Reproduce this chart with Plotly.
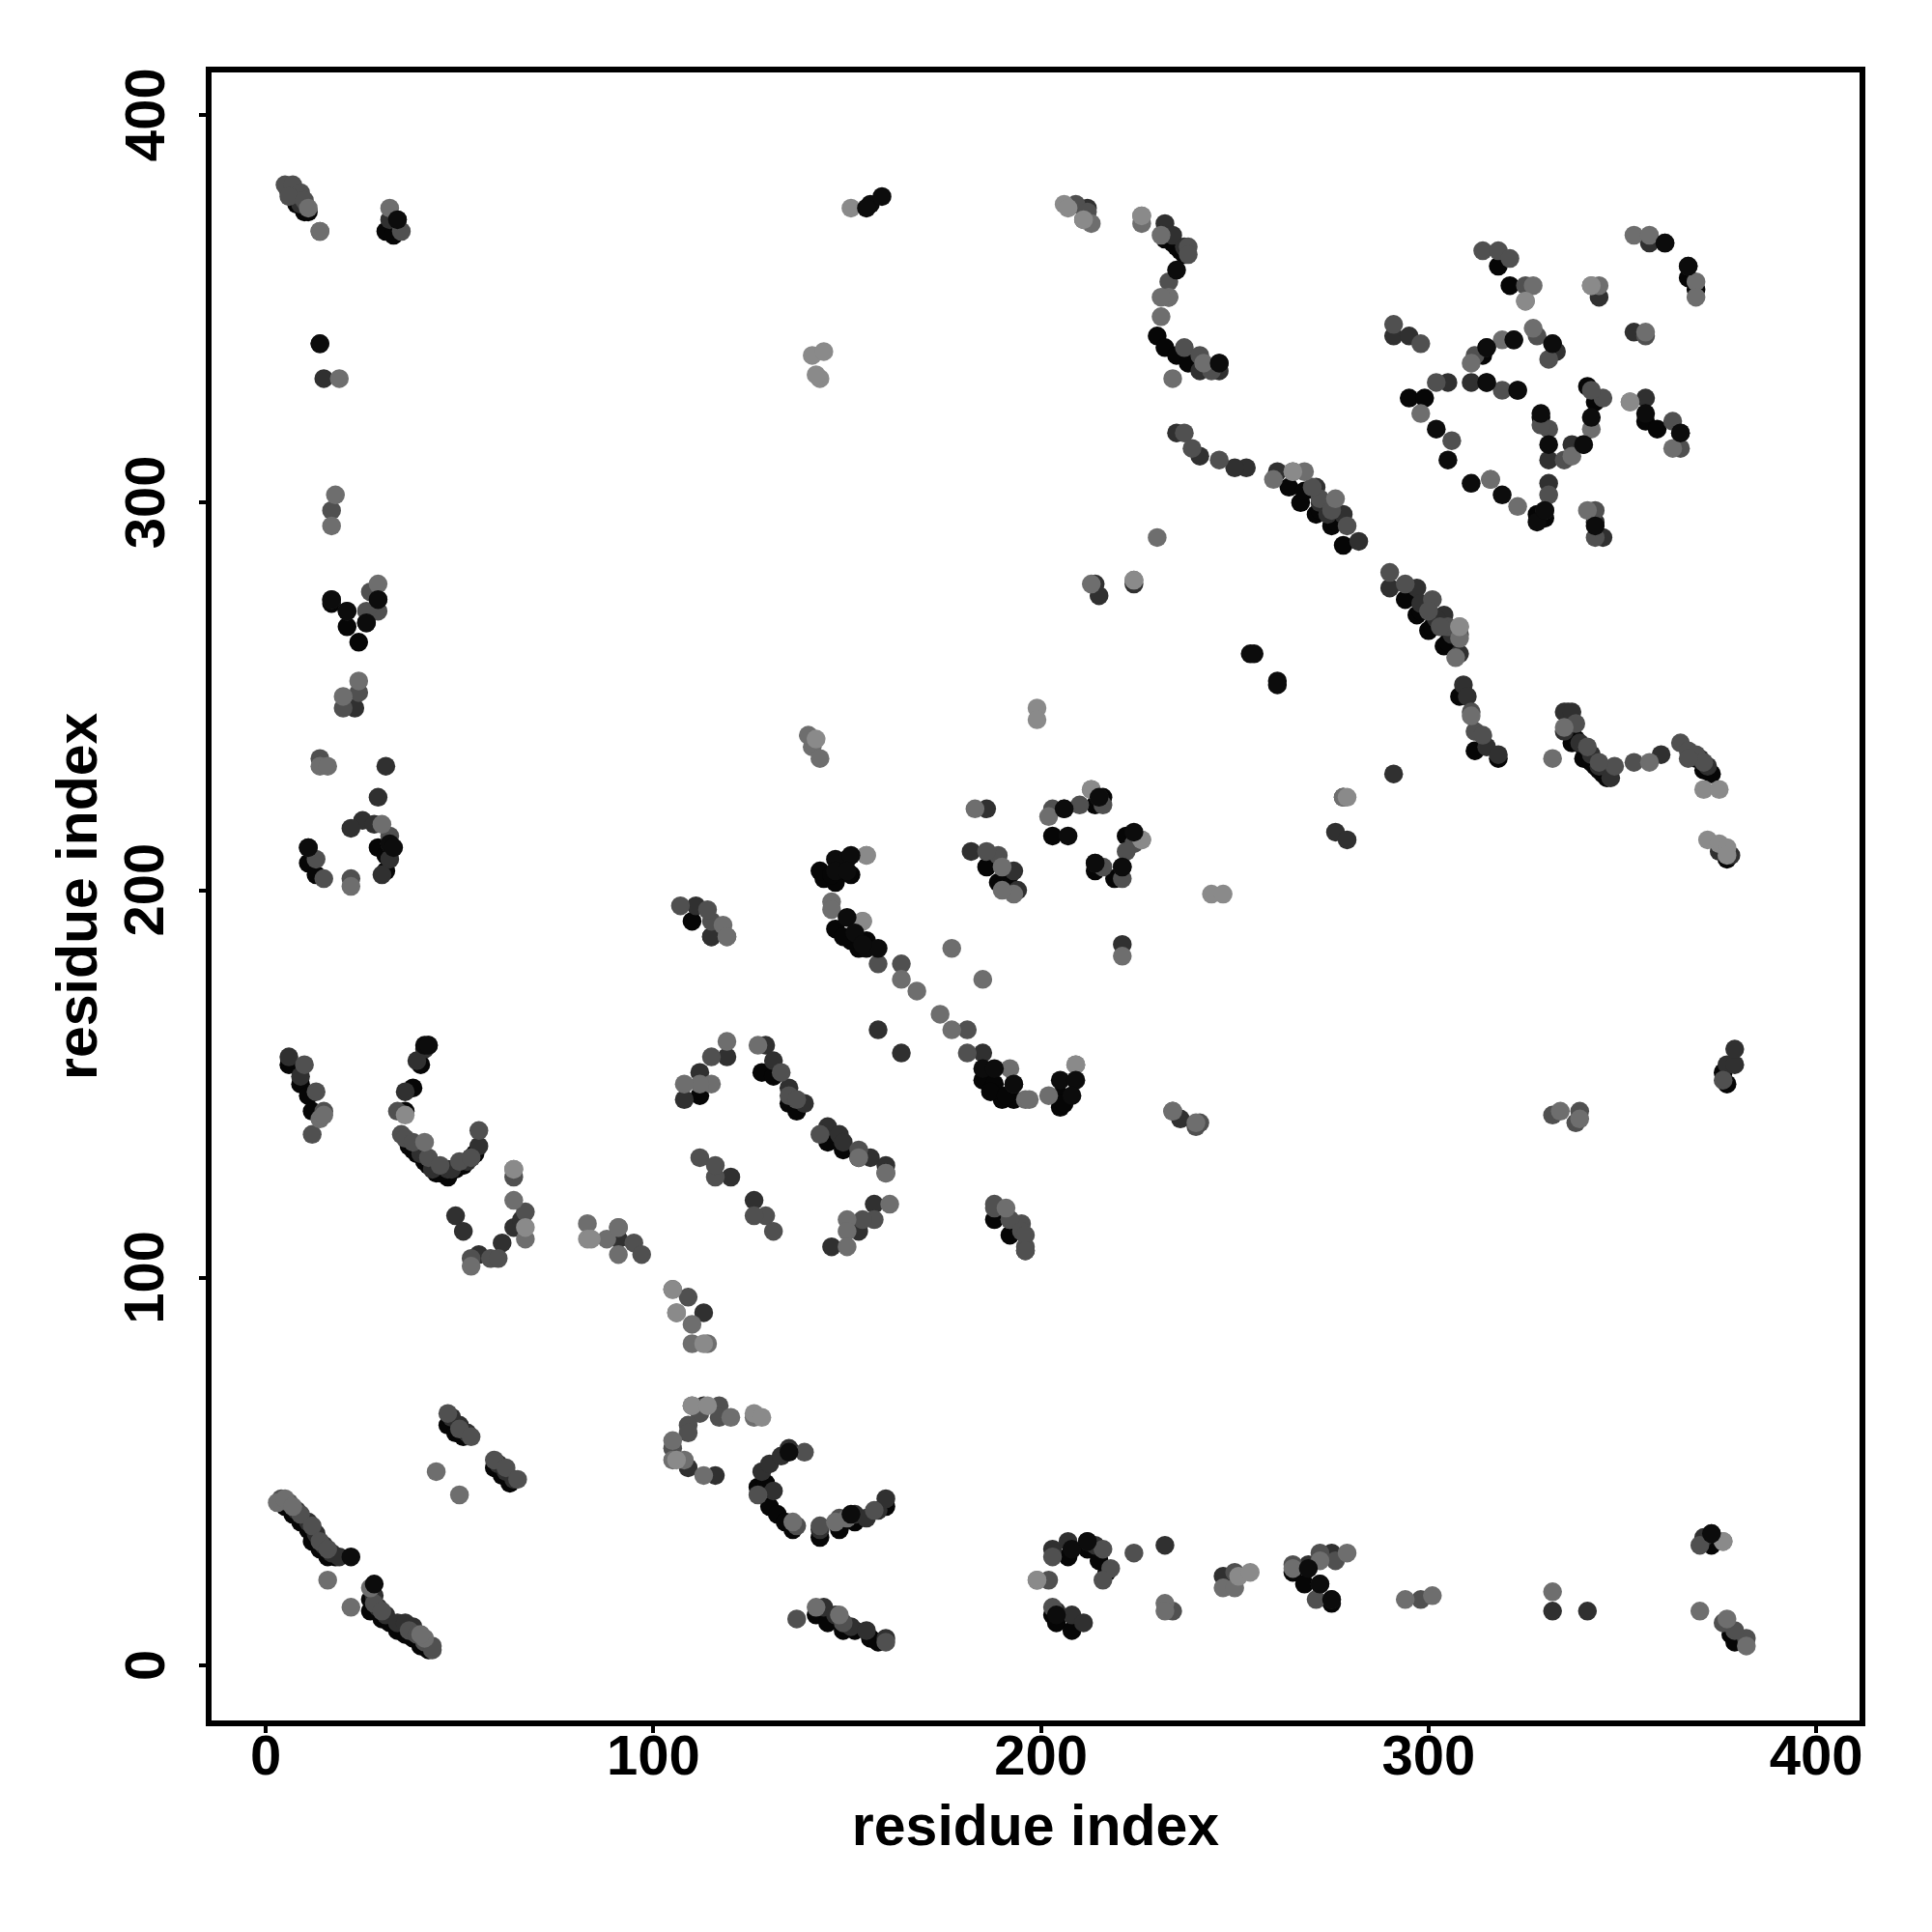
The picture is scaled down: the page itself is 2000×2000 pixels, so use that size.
import plotly.graph_objects as go

tick_values = [0, 100, 200, 300, 400]
axis_title = "residue index"

# contacts as (residue x, residue y), grouped by grey level, drawn in this order
contacts_black = [
 (5,41),(7,39),(9,37),(11,35),(12,32),(14,30),(16,28),(18,28),(27,17),(27,14),(30,12),(32,11),(34,9),(36,8),(38,7),(40,5),(42,4),
 (47,62),(49,60),(51,59),(59,51),(61,49),(63,47),(127,46),(129,47),(130,41),(132,39),(134,37),(136,35),(143,33),(148,35),(152,37),(160,41),
 (142,13),(145,11),(149,9),(152,9),(156,7),(158,6),
 (203,13),(204,11),(208,9),(207,28),(212,30),(215,27),(217,24),(265,24),(268,21),(275,16),(373,31),(371,32),(378,8),(379,6),
 (188,115),(192,111),(196,107),(112,147),(110,192),(115,188),(128,153),(131,152),(135,145),(137,143),(145,135),(149,133),(153,131),
 (144,203),(147,202),(151,204),(147,190),(151,187),(155,187),(185,151),(188,150),(190,146),(193,146),(205,144),(205,147),
 (186,206),(189,202),(192,204),(203,214),(214,222),(216,224),(222,214),(214,205),(219,203),
 (232,370),(234,367),(236,365),(230,343),(232,340),(235,338),(238,336),(264,304),(267,300),(271,297),(275,294),(278,289),
 (294,275),(297,271),(300,267),(304,263),(308,250),(312,236),(318,234),(337,238),(340,234),(343,232),(345,230),(367,358),(369,355),
 (318,361),(321,356),(295,327),(299,327),(314,338),(341,330),(343,326),(356,321),(359,319),(329,322),(328,297),(330,296),
 (11,207),(13,204),(29,211),(31,205),(31,209),(8,377),(10,375),(31,370),(33,369),(17,274),(21,268),(24,264),(6,155),(9,150),(11,147),(12,143),
 (36,143),(38,149),(40,155),(38,133),(41,130),(44,127),(47,126),(51,129),(54,132),(377,150),(376,153),
 (336,243),(338,239),(340,237),(342,233),(344,231),(346,229),(232,368),(235,366),(237,364),(298,272),(301,268),(305,264),(268,303),(272,298),(276,295),
 (6,380),(9,378),(11,375),(37,134),(39,132),(42,129),(45,127),(49,128),(53,131),(369,234),(371,231),(373,230),
 (377,208),(143,205),(146,204),(149,188),(153,185),(187,148),(191,147),(206,145),(190,201),
]
contacts_dark = [
 (8,40),(11,37),(13,34),(15,31),(17,29),(19,28),(28,18),(29,15),(31,13),(34,11),(36,11),(38,10),
 (48,64),(50,62),(52,60),(60,52),(62,50),(64,48),(128,50),(130,52),(133,54),(135,56),(131,45),(152,39),(155,38),(158,40),(160,43),
 (144,15),(147,13),(151,10),(155,9),(160,7),
 (203,30),(207,32),(212,32),(214,31),(232,31),(204,14),(208,13),(211,11),(247,23),(269,26),(275,29),(272,21),(275,17),(341,14),(332,14),(373,34),(371,33),
 (49,116),(51,112),(61,109),(91,110),(113,91),(116,49),(113,67),(109,51),(143,35),
 (111,196),(115,188),(186,221),(182,210),(206,221),(215,224),(221,206),(214,207),(221,186),(158,164),(164,158),(185,158),(193,150),(194,200),(193,205),
 (120,126),(126,120),(157,119),(119,157),(112,153),(108,146),(129,160),(131,156),(135,149),(139,145),(145,139),(148,137),(149,135),(156,131),(160,129),(153,112),(146,108),(236,141),
 (232,372),(233,353),(241,334),(246,336),(246,334),(253,309),(250,309),(241,312),(235,318),(261,308),(271,304),(278,297),(282,290),(290,278),(297,278),(304,271),(308,261),(309,253),(310,250),(315,237),(318,235),(336,246),(342,235),(360,235),(370,234),(372,232),
 (291,343),(295,343),(305,331),(311,331),(315,331),(323,329),(315,340),(322,342),(333,339),(331,311),(331,305),(330,298),(337,315),(340,315),(356,327),(365,318),(343,295),(345,291),
 (361,367),(357,367),(353,344),(344,353),(367,361),(14,341),(15,332),(32,373),(34,373),(17,275),(21,272),(29,275),(26,269),(23,247),(31,232),(29,224),(11,211),(32,212),(32,208),(25,218),(22,216),(28,217),(30,204),
 (6,157),(9,152),(41,159),(42,160),(39,156),(36,148),(43,128),(47,128),(55,134),(377,155),(379,155),
 (214,279),(215,276),(224,279),(276,215),(279,213),(291,230),(278,224),(379,159),(335,246),(337,246),(335,241),(339,238),(344,232),(347,229),
 (272,300),(274,297),(298,274),(302,270),(306,266),(7,380),(9,377),(212,376),(234,369),(237,366),(52,130),(48,128),(40,132),
 (375,210),(378,209),(64,113),(66,115),(55,106),
]
contacts_mid = [
 (4,43),(6,42),(9,39),(12,36),(14,32),(16,30),(28,16),(30,14),(37,9),(39,8),(41,6),(43,4),(43,5),
 (47,65),(50,61),(53,59),(59,53),(62,51),(65,48),(53,105),(58,105),(64,126),(67,117),(95,109),(91,113),(97,106),(105,97),(109,95),
 (112,65),(117,67),(117,64),(109,62),(109,60),(105,56),(139,55),(127,44),(137,36),(143,36),(148,38),(157,40),
 (137,12),(149,11),(160,6),(203,28),(216,30),(218,25),(216,22),(224,29),(202,22),(203,15),(234,14),(250,24),(265,26),(272,29),(276,27),(271,17),(298,17),(382,7),(379,9),(376,11),(370,31),
 (188,119),(192,115),(195,114),(196,108),(115,192),(119,188),(107,196),(114,195),(189,209),(186,210),(203,221),(210,222),(216,222),(224,212),(222,210),(216,206),(221,203),(164,181),(181,158),(181,164),(158,181),
 (112,131),(116,126),(116,129),(129,116),(131,112),(126,116),(157,115),(154,115),(188,118),(192,115),(195,112),(196,111),(196,107),(115,157),(133,153),(135,147),(137,146),(143,137),(153,133),(160,127),(234,143),(241,140),(240,139),
 (209,377),(212,375),(211,373),(238,366),(238,364),(233,357),(237,340),(244,334),(241,338),(237,318),(239,314),(246,311),(265,308),(272,301),(275,298),(279,294),(290,282),(294,279),(301,275),(305,268),(308,266),(311,246),(312,241),(314,240),(348,232),(353,233),(365,238),(367,236),(344,233),
 (291,346),(298,341),(314,365),(318,365),(321,363),(325,356),(302,331),(319,329),(312,338),(328,343),(332,341),(331,337),(345,327),(331,319),(306,316),(316,306),(329,320),(331,302),(335,311),(342,329),(363,321),(365,314),(343,298),(343,291),(356,343),
 (5,382),(7,382),(9,380),(35,370),(14,370),(17,298),(27,277),(29,272),(26,272),(15,203),(22,203),(32,214),(14,234),(13,208),(24,251),(20,247),
 (13,148),(15,143),(12,137),(10,155),(34,143),(35,137),(50,130),(53,131),(55,138),(332,142),(339,143),(338,140),(376,151),
 (36,136),(38,135),(42,131),(45,129),(338,243),(341,237),(369,235),(371,233),(6,379),(10,378),(367,234),(270,304),(300,272),(303,268),
 (60,105),
]
contacts_gray = [
 (3,42),(5,43),(7,41),(16,22),(22,15),(27,20),(41,7),(40,8),(44,50),(50,44),
 (53,103),(64,128),(64,120),(67,110),(83,114),(88,110),(91,113),(91,106),(106,91),(110,88),(110,83),(114,83),(120,64),(126,64),(110,67),(105,58),(105,53),(113,49),(108,53),(136,37),(147,37),(150,38),
 (142,15),(148,13),(199,22),(232,16),(232,14),(247,20),(250,20),(265,25),(272,27),(279,29),(294,17),(301,18),(332,19),(370,14),(376,32),(377,12),(382,5),
 (183,221),(202,219),(213,226),(226,213),(155,209),(146,197),(146,195),(154,192),(177,185),(185,177),(164,177),(168,174),(174,168),(177,164),(192,154),(196,146),(197,146),(202,147),(209,155),(190,206),(193,199),(190,200),(221,183),
 (119,161),(127,160),(115,150),(112,150),(108,150),(150,115),(150,112),(150,108),(161,119),(191,118),(153,131),(160,127),(234,143),(240,140),(118,191),(119,188),
 (226,374),(226,372),(231,369),(233,353),(231,353),(231,348),(234,332),(242,336),(213,372),(230,291),(213,279),(224,280),(260,306),(268,308),(276,301),(308,268),(308,265),(307,260),(311,245),(332,234),(335,242),(357,233),(342,356),(344,356),(327,356),(325,352),(353,369),(357,369),(369,357),(369,353),(327,345),(319,342),(311,336),(298,323),(323,299),(316,306),(342,319),(337,312),(352,326),(363,314),(341,298),(356,344),
 (14,232),(16,232),(20,250),(24,254),(19,332),(18,302),(17,294),(29,279),(30,217),(22,201),(11,376),(32,376),(14,370),
 (14,141),(15,142),(41,135),(334,143),(339,141),(278,224),(141,237),(143,234),(140,240),
]
contacts_light = [
 (199,22),(126,65),(128,64),(110,67),(114,67),(106,53),(113,83),(83,110),(84,110),(64,128),(67,113),
 (105,97),(106,91),(36,142),(244,199),(247,199),(213,226),(226,213),(155,209),(154,192),(209,155),
 (226,374),(342,356),(325,352),(308,268),(265,308),(224,280),(352,326),(199,247),(199,244),(371,226),(375,226),(372,213),(375,212),(377,211),(377,209),(376,32),
 (141,338),(144,339),(143,332),(142,333),(142,239),(151,376),(206,377),(207,376),(211,373),(251,23),(254,24),(279,224),
]
contacts_top = [
 (22,28),(28,21),(135,55),(151,39),(204,13),(208,30),(212,32),(269,25),(272,21),(275,17),(373,34),
 (147,208),(150,208),(151,209),(147,205),(150,205),(150,193),(152,189),(155,185),(158,185),(154,186),
 (185,154),(188,154),(193,150),(205,151),(209,151),(208,147),(206,221),(207,214),(215,224),(221,206),(214,207),(224,215),
 (235,360),(246,336),(254,261),(255,261),(261,254),(261,253),(156,377),(155,376),(159,379),(41,160),(42,160),
 (322,342),(315,340),(315,331),(323,329),(342,322),(340,315),(331,315),(305,311),(311,305),(319,302),(302,319),(367,361),(361,367),(332,341),(329,323),(328,295),(330,298),(356,323),(365,318),(343,294),
 (32,212),(33,211),(11,211),(17,275),(29,275),(21,272),(26,269),(34,373),(14,341),
]

layers = [
 (contacts_black, "#060606"), (contacts_dark, "#303030"), (contacts_mid, "#505050"),
 (contacts_gray, "#6e6e6e"), (contacts_light, "#8a8a8a"), (contacts_top, "#0c0c0c"),
]

fig = go.Figure()
for pts, col in layers:
    fig.add_trace(go.Scatter(x=[p[0] for p in pts], y=[p[1] for p in pts], mode="markers",
                             marker=dict(size=19.5, color=col, line=dict(width=0)),
                             showlegend=False))

font_tick = dict(family="Liberation Sans", size=58, color="black", weight="bold")
font_title = dict(family="Liberation Sans", size=59, color="black", weight="bold")
axis = dict(tickvals=tick_values, ticks="outside", ticklen=7, tickwidth=4,
            tickcolor="black", showline=True, linecolor="black", linewidth=6, mirror=True,
            showgrid=False, zeroline=False, tickfont=font_tick)

fig.update_layout(
    width=2000, height=2000, paper_bgcolor="white", plot_bgcolor="white",
    margin=dict(l=219, r=75, t=75, b=219, autoexpand=False),
    xaxis=dict(axis, range=[-13.96, 411.2], title=dict(text=axis_title, font=font_title, standoff=23), ticklabelstandoff=-27),
    yaxis=dict(axis, range=[-14.2, 411.0], showticklabels=False),
)

# rotated y labels and title placed in paper coordinates left of the frame
label_x = (149 - 219) / (1925 - 219)
title_x = (80 - 219) / (1925 - 219)
for v in tick_values:
    fig.add_annotation(x=label_x, xref="paper", y=v, yref="y", text=str(v), textangle=-90,
                       showarrow=False, xanchor="center", yanchor="middle", font=font_tick)
fig.add_annotation(x=title_x, xref="paper", y=0.5, yref="paper", text=axis_title, textangle=-90,
                   showarrow=False, xanchor="center", yanchor="middle", font=font_title)

fig.write_html("out.html", config={"displayModeBar": False}, post_script="document.body.style.margin='0';")
